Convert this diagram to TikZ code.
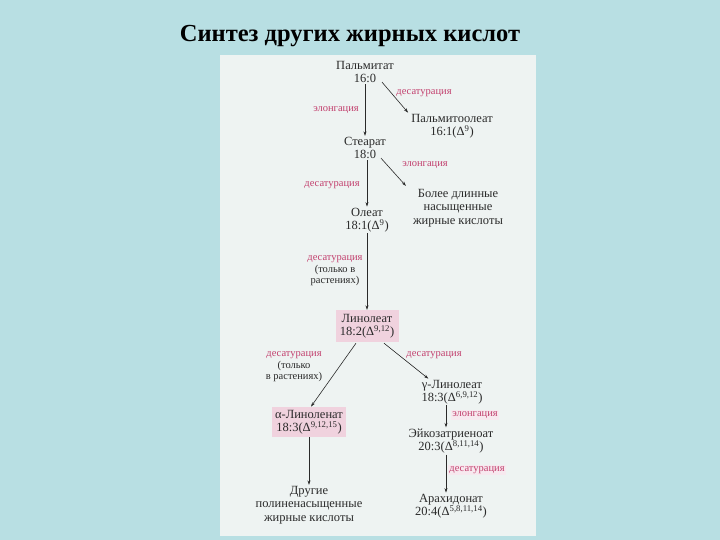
\documentclass[tikz,border=0pt]{standalone}
\usepackage{fontspec}
\setmainfont{Liberation Serif}
\usetikzlibrary{calc,arrows.meta}
\definecolor{bgblue}{HTML}{B8DFE3}
\definecolor{pagecol}{HTML}{EEF3F2}
\definecolor{pinkbox}{HTML}{F0D2DE}
\definecolor{pinktext}{HTML}{C2406E}
\definecolor{faintpink}{HTML}{F7E9EF}
\definecolor{inkcol}{HTML}{2A2A2A}
\tikzset{
  cmpd/.style={align=center, inner sep=1pt, text=inkcol, font=\fontsize{12.5}{13.5}\selectfont},
  hibox/.style={cmpd, fill=pinkbox, inner sep=3pt},
  enz/.style={text=pinktext, inner sep=1pt, font=\fontsize{10.5}{12}\selectfont},
  enzbox/.style={enz, fill=faintpink, inner sep=1.5pt},
  note/.style={align=center, inner sep=1pt, text=inkcol, font=\fontsize{10.5}{11.5}\selectfont},
  conn/.style={draw=inkcol, line width=0.6pt, -{Stealth[length=4.5pt,width=3pt]}}
}
\begin{document}
\begin{tikzpicture}[x=1pt,y=-1pt]
\fill[bgblue] (0,0) rectangle (720,540);
\useasboundingbox (0,0) rectangle (720,540);
\fill[pagecol] (220,55) rectangle (536,536);
\node[font=\fontsize{24.5}{26}\selectfont\bfseries, text=black] (title) at (350,36) {Синтез других жирных кислот};

\node[cmpd] (palm) at (365,72) {Пальмитат\\16:0};
\node[cmpd] (palmo) at (452,126) {Пальмитоолеат\\16:1(Δ\textsuperscript{9})};
\node[cmpd] (stear) at (365,148) {Стеарат\\18:0};
\node[cmpd] (longer) at (458,208) {Более длинные\\насыщенные\\жирные кислоты};
\node[cmpd] (oleat) at (367,220) {Олеат\\18:1(Δ\textsuperscript{9})};
\node[hibox, minimum width=63pt, minimum height=32pt] (linol) at (367,326) {Линолеат\\18:2(Δ\textsuperscript{9,12})};
\node[cmpd] (gamma) at (452,392) {γ-Линолеат\\18:3(Δ\textsuperscript{6,9,12})};
\node[hibox, minimum width=71pt, minimum height=29pt] (alpha) at (309,422) {α-Линоленат\\18:3(Δ\textsuperscript{9,12,15})};
\node[cmpd] (eico) at (451,441) {Эйкозатриеноат\\20:3(Δ\textsuperscript{8,11,14})};
\node[cmpd] (other) at (309,505) {Другие\\полиненасыщенные\\жирные кислоты};
\node[cmpd] (arach) at (451,506) {Арахидонат\\20:4(Δ\textsuperscript{5,8,11,14})};

\node[enz] (e1) at (424,93) {десатурация};
\node[enz] (e2) at (336,110) {элонгация};
\node[enz] (e3) at (425,165) {элонгация};
\node[enz] (e4) at (332,185) {десатурация};
\node[note] (e5) at (335,271) {\textcolor{pinktext}{десатурация}\\(только в\\растениях)};
\node[note] (e6) at (294,367) {\textcolor{pinktext}{десатурация}\\(только\\в растениях)};
\node[enz] (e7) at (434,355) {десатурация};
\node[enzbox] (e8) at (475,415) {элонгация};
\node[enzbox] (e9) at (477,470) {десатурация};

\draw[conn] (palm.south) -- (stear.north);
\draw[conn] ($(palm.south)+(17,-2)$) -- ($(palmo.north west)+(-2,0)$);
\draw[conn] ($(stear.south)+(16,-2)$) -- ($(longer.north west)+(-6,-2)$);
\draw[conn] (stear.south -| oleat.north) -- (oleat.north);
\draw[conn] (oleat.south) -- (linol.north);
\draw[conn] ($(linol.south)+(-11,1)$) -- ($(alpha.north)+(2,0)$);
\draw[conn] ($(linol.south)+(17,1)$) -- ($(gamma.north west)+(8,0)$);
\draw[conn] (alpha.south) -- (other.north);
\draw[conn] ($(gamma.south)+(-6,0)$) -- ($(eico.north)+(-5,0)$);
\draw[conn] ($(eico.south)+(-5,0)$) -- ($(arach.north)+(-5,0)$);
\end{tikzpicture}
\end{document}
